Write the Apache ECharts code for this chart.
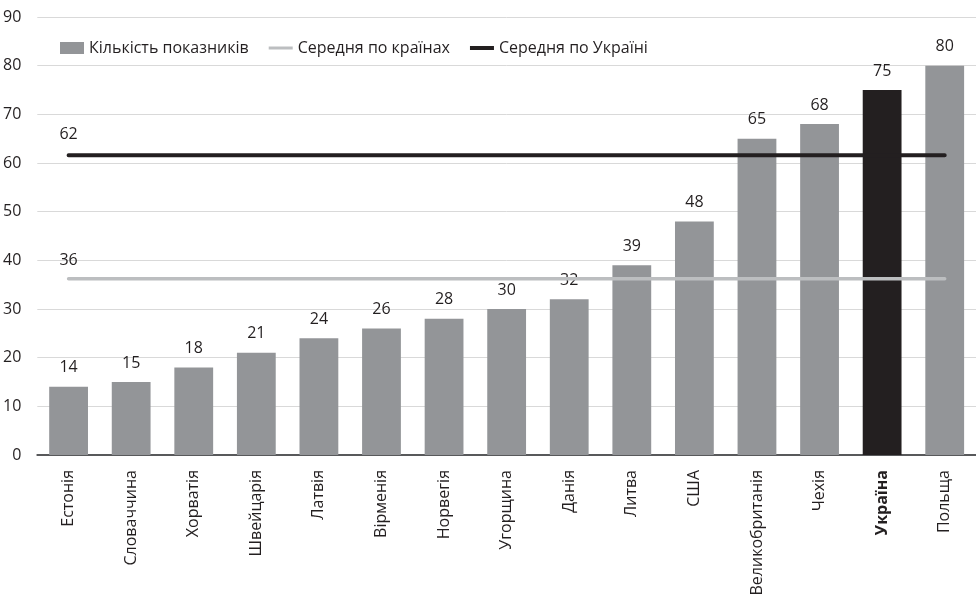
<!DOCTYPE html>
<html><head><meta charset="utf-8">
<script src="https://cdn.jsdelivr.net/npm/echarts@6/dist/echarts.min.js"></script>
<style>html,body{margin:0;padding:0;background:#fff}#c{width:976px;height:600px}</style>
</head><body><div id="c"></div>
<script>
var categories = ['Естонія','Словаччина','Хорватія','Швейцарія','Латвія','Вірменія','Норвегія','Угорщина','Данія','Литва','США','Великобританія','Чехія','Україна','Польща'];
var counts = [14,15,18,21,24,26,28,30,32,39,48,65,68,75,80];
var avgCountries = 36.2;
var avgUkraine = 61.6;
var avgCountriesLabel = '36';
var avgUkraineLabel = '62';
var yTicks = [0,10,20,30,40,50,60,70,80,90];
var highlight = 'Україна';

var font = '"Open Sans", "Noto Sans", sans-serif';
var chart = echarts.init(document.getElementById('c'), null, {renderer:'canvas'});
function flat(v){ return categories.map(function(){return v;}); }
chart.setOption({
  animation:false,
  textStyle:{fontFamily:font},
  legend:{
    left:55, top:35, itemGap:20, itemWidth:24, itemHeight:12,
    textStyle:{fontFamily:font, fontSize:16, color:'#231f20'},
    data:[{name:'Кількість показників', icon:'rect'},
          {name:'Середня по країнах', icon:'path://M0,0 L24,0 L24,3 L0,3 Z'},
          {name:'Середня по Україні', icon:'path://M0,0 L24,0 L24,4 L0,4 Z'}]
  },
  grid:{left:37, right:0, top:17, bottom:145, containLabel:false},
  xAxis:{type:'category', data:categories,
    axisLine:{lineStyle:{color:'#58595b', width:2}},
    axisTick:{show:false},
    axisLabel:{rotate:90, fontFamily:font, fontSize:16, color:'#231f20', margin:15,
      formatter:function(v){ return v===highlight ? '{b|'+v+'}' : v; },
      rich:{b:{fontWeight:'bold', fontFamily:font, fontSize:16, color:'#231f20'}}}
  },
  yAxis:{type:'value', min:0, max:90, interval:10,
    axisLine:{show:false}, axisTick:{show:false},
    axisLabel:{fontFamily:font, fontSize:16, color:'#231f20', margin:16,
      formatter:function(v){ return yTicks.indexOf(v)>=0 ? String(v) : ''; }},
    splitLine:{lineStyle:{color:'#d9d9d9', width:1}}
  },
  series:[
    {name:'Кількість показників', type:'bar', barWidth:'62%',
     data: counts.map(function(v,i){ return categories[i]===highlight ? {value:v, itemStyle:{color:'#231f20'}} : v; }),
     itemStyle:{color:'#939598'},
     label:{show:true, position:'top', distance:11, fontFamily:font, fontSize:16, color:'#231f20'}
    },
    {name:'Середня по країнах', type:'line', data:flat(avgCountries), symbol:'none',
     lineStyle:{color:'#bcbec0', width:3.5, cap:'round'}, itemStyle:{color:'#bcbec0'}, z:3,
     markPoint:{symbol:'rect', symbolSize:1, itemStyle:{color:'transparent'},
       label:{show:true, position:'top', distance:10, formatter:avgCountriesLabel, fontFamily:font, fontSize:16, color:'#231f20'},
       data:[{coord:[0, avgCountries]}]}
    },
    {name:'Середня по Україні', type:'line', data:flat(avgUkraine), symbol:'none',
     lineStyle:{color:'#231f20', width:4, cap:'round'}, itemStyle:{color:'#231f20'}, z:4,
     markPoint:{symbol:'rect', symbolSize:1, itemStyle:{color:'transparent'},
       label:{show:true, position:'top', distance:12, formatter:avgUkraineLabel, fontFamily:font, fontSize:16, color:'#231f20'},
       data:[{coord:[0, avgUkraine]}]}
    }
  ]
});
</script></body></html>
